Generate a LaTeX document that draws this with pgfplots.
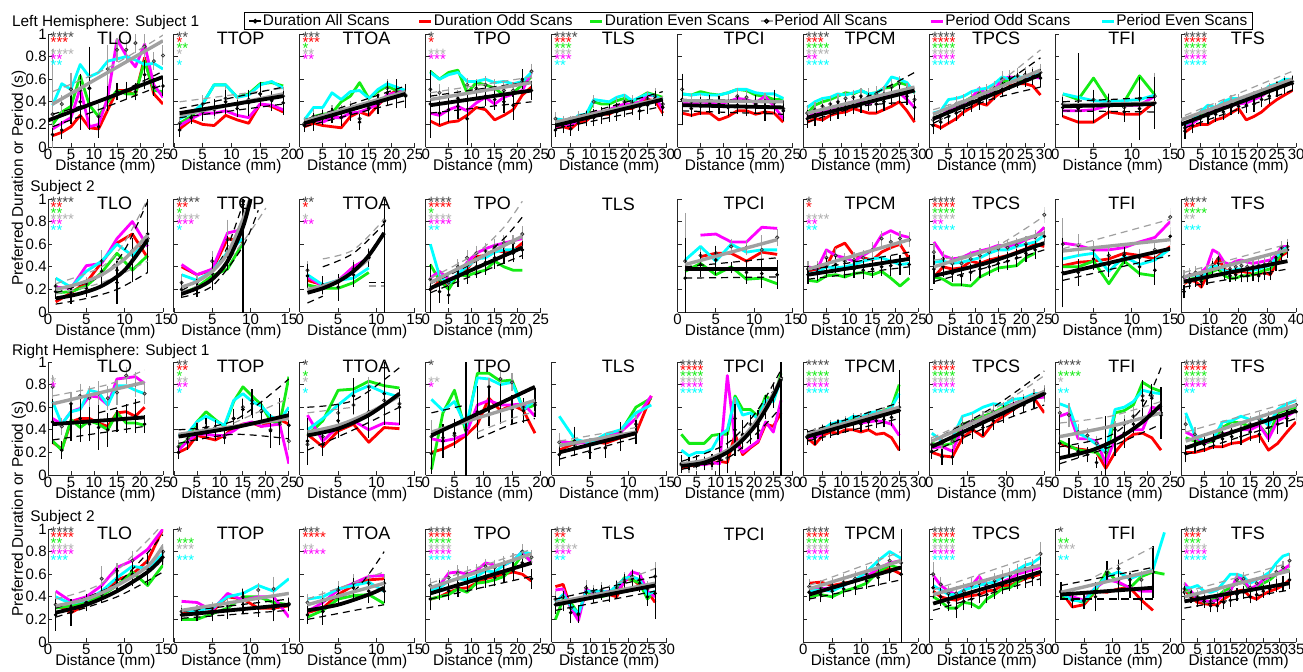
\documentclass[border=0pt]{standalone}
\usepackage{fontspec}
\setmainfont{Liberation Sans}
\usepackage{pgfplots}
\usepackage{pgfplotstable}
\pgfplotsset{compat=1.18}
\definecolor{cR}{RGB}{255,0,0}
\definecolor{cG}{RGB}{20,235,20}
\definecolor{cM}{RGB}{255,0,255}
\definecolor{cC}{RGB}{0,255,255}
\definecolor{cP}{RGB}{160,160,160}
\definecolor{sD}{RGB}{70,70,70}
\definecolor{sP}{RGB}{175,175,175}
\newcommand\fLab{\fontsize{7.7pt}{9pt}\selectfont}
\newcommand\fTick{\fontsize{7.5pt}{9pt}\selectfont}
\newcommand\fTtl{\fontsize{9pt}{10pt}\selectfont}
\newcommand\nstar[1]{\ifcase#1\or*\or**\or***\or****\fi}
\newcommand\sline[2]{\hbox{\vrule height 2.85pt depth 0pt width 0pt\smash{\textcolor{#1}{\nstar{#2}}}}}
\newcommand\stars[6]{\vbox{\offinterlineskip\sline{sD}{#1}\sline{cR}{#2}\sline{cG}{#3}\sline{sP}{#4}\sline{cM}{#5}\sline{cC}{#6}}}

% ---------------- Row A: Left hemisphere, subject 1
\pgfplotstableread{
x D Do De P Po Pe eD eP
1 0.11 0.10 0.20 0.29 0.16 0.37 0.03 0.55
3 0.15 0.13 0.31 0.38 0.21 0.56 0.05 0.05
5 0.33 0.18 0.36 0.51 0.26 0.51 0.10 0.12
7 0.40 0.28 0.63 0.50 0.52 0.73 0.22 0.10
9 0.52 0.17 0.37 0.52 0.18 0.62 0.34 0.10
11 0.18 0.16 0.27 0.27 0.20 0.66 0.07 0.08
13 0.43 0.33 0.40 0.69 0.44 0.76 0.08 0.18
15 0.49 0.50 0.50 0.86 0.95 0.78 0.05 0.08
17 0.50 0.50 0.47 0.86 0.81 0.80 0.05 0.06
19 0.49 0.46 0.47 0.92 0.71 0.77 0.05 0.06
21 0.64 0.79 0.76 0.89 0.91 0.73 0.10 0.10
23 0.53 0.47 0.50 0.76 0.55 0.74 0.05 0.05
25 0.54 0.38 0.49 0.81 0.44 0.69 0.06 0.06
}\tAa
\pgfplotstableread{
x D Do De P Po Pe eD eP
1 0.15 0.16 0.21 0.21 0.19 0.25 0.03 0.03
3 0.26 0.24 0.27 0.26 0.25 0.30 0.03 0.03
5 0.31 0.20 0.38 0.38 0.30 0.38 0.05 0.05
7 0.35 0.19 0.55 0.33 0.30 0.55 0.05 0.05
9 0.40 0.28 0.55 0.43 0.32 0.55 0.08 0.08
11 0.34 0.24 0.44 0.37 0.28 0.44 0.05 0.05
13 0.39 0.21 0.47 0.42 0.26 0.46 0.09 0.05
15 0.47 0.38 0.56 0.47 0.38 0.55 0.08 0.05
17 0.41 0.36 0.57 0.42 0.37 0.58 0.06 0.05
19 0.39 0.31 0.54 0.45 0.33 0.52 0.08 0.05
}\tAb
\pgfplotstableread{
x D Do De P Po Pe eD eP
1 0.19 0.18 0.20 0.21 0.20 0.24 0.03 0.03
3 0.22 0.21 0.27 0.27 0.24 0.35 0.05 0.04
5 0.26 0.19 0.29 0.27 0.22 0.35 0.04 0.04
7 0.28 0.18 0.30 0.30 0.26 0.48 0.04 0.04
9 0.26 0.17 0.40 0.30 0.26 0.42 0.05 0.04
11 0.30 0.27 0.45 0.34 0.30 0.49 0.04 0.04
13 0.22 0.31 0.57 0.25 0.31 0.50 0.04 0.04
15 0.34 0.28 0.43 0.35 0.34 0.43 0.04 0.04
17 0.38 0.37 0.49 0.40 0.38 0.51 0.06 0.05
19 0.48 0.45 0.54 0.52 0.46 0.56 0.08 0.05
21 0.47 0.50 0.50 0.49 0.48 0.53 0.10 0.05
23 0.45 0.49 0.50 0.46 0.50 0.50 0.08 0.05
}\tAc
\pgfplotstableread{
x D Do De P Po Pe eD eP
1 0.38 0.23 0.67 0.51 0.30 0.66 0.27 0.05
3 0.30 0.19 0.60 0.48 0.28 0.60 0.08 0.05
5 0.33 0.22 0.66 0.45 0.33 0.64 0.08 0.05
7 0.36 0.23 0.68 0.43 0.36 0.66 0.08 0.05
9 0.25 0.28 0.48 0.55 0.32 0.58 0.20 0.03
11 0.50 0.35 0.57 0.52 0.39 0.58 0.06 0.05
13 0.45 0.33 0.55 0.55 0.44 0.60 0.06 0.05
15 0.42 0.24 0.52 0.52 0.38 0.57 0.06 0.05
17 0.40 0.28 0.46 0.50 0.44 0.58 0.07 0.05
19 0.37 0.33 0.48 0.50 0.47 0.56 0.10 0.05
21 0.60 0.46 0.55 0.58 0.50 0.58 0.06 0.05
23 0.50 0.53 0.62 0.67 0.66 0.66 0.06 0.04
}\tAd
\pgfplotstableread{
x D Do De P Po Pe eD eP
1 0.15 0.17 0.20 0.25 0.18 0.25 0.03 0.03
3 0.18 0.18 0.21 0.22 0.20 0.24 0.03 0.03
5 0.16 0.16 0.19 0.22 0.19 0.22 0.03 0.03
7 0.21 0.22 0.25 0.26 0.24 0.28 0.04 0.03
9 0.25 0.23 0.27 0.27 0.25 0.29 0.04 0.03
11 0.26 0.29 0.40 0.40 0.31 0.42 0.05 0.03
13 0.28 0.29 0.38 0.30 0.31 0.41 0.05 0.03
15 0.30 0.29 0.38 0.32 0.33 0.40 0.05 0.03
17 0.31 0.33 0.41 0.37 0.36 0.44 0.05 0.04
19 0.34 0.34 0.43 0.40 0.38 0.46 0.05 0.04
21 0.35 0.34 0.40 0.39 0.38 0.41 0.04 0.04
23 0.32 0.39 0.44 0.36 0.40 0.44 0.05 0.04
25 0.37 0.42 0.48 0.43 0.46 0.47 0.05 0.04
27 0.43 0.41 0.46 0.45 0.45 0.45 0.04 0.04
29 0.35 0.30 0.44 0.38 0.33 0.42 0.05 0.04
}\tAe
\pgfplotstableread{
x D Do De P Po Pe eD eP
1 0.42 0.30 0.47 0.51 0.39 0.47 0.20 0.10
3 0.34 0.28 0.46 0.40 0.38 0.46 0.05 0.04
5 0.36 0.30 0.49 0.40 0.40 0.47 0.05 0.04
7 0.38 0.30 0.47 0.40 0.39 0.46 0.05 0.04
9 0.37 0.24 0.46 0.39 0.38 0.46 0.05 0.04
11 0.35 0.27 0.48 0.40 0.40 0.48 0.05 0.04
13 0.37 0.32 0.51 0.45 0.43 0.51 0.05 0.04
15 0.35 0.32 0.50 0.44 0.42 0.51 0.05 0.04
17 0.38 0.29 0.46 0.38 0.39 0.48 0.05 0.04
19 0.31 0.31 0.45 0.41 0.45 0.47 0.05 0.04
21 0.40 0.30 0.42 0.39 0.36 0.47 0.08 0.05
23 0.32 0.22 0.42 0.34 0.25 0.43 0.06 0.05
}\tAf
\pgfplotstableread{
x D Do De P Po Pe eD eP
1 0.25 0.22 0.30 0.30 0.26 0.35 0.05 0.04
3 0.26 0.25 0.37 0.33 0.30 0.40 0.05 0.04
5 0.30 0.24 0.40 0.36 0.32 0.43 0.05 0.04
7 0.31 0.28 0.42 0.38 0.34 0.44 0.05 0.04
9 0.33 0.30 0.45 0.40 0.36 0.47 0.05 0.04
11 0.35 0.31 0.48 0.43 0.38 0.46 0.05 0.04
13 0.37 0.34 0.47 0.44 0.40 0.48 0.05 0.04
15 0.38 0.32 0.50 0.45 0.40 0.50 0.05 0.04
17 0.40 0.30 0.47 0.45 0.38 0.47 0.05 0.04
19 0.38 0.30 0.48 0.47 0.42 0.48 0.05 0.04
21 0.40 0.33 0.52 0.47 0.44 0.52 0.05 0.04
23 0.45 0.36 0.53 0.53 0.46 0.62 0.05 0.04
25 0.47 0.40 0.57 0.56 0.48 0.60 0.05 0.04
27 0.45 0.32 0.55 0.50 0.42 0.57 0.05 0.04
29 0.35 0.22 0.48 0.42 0.35 0.48 0.08 0.06
}\tAg
\pgfplotstableread{
x D Do De P Po Pe eD eP
1 0.19 0.20 0.26 0.24 0.25 0.30 0.05 0.04
3 0.22 0.17 0.27 0.25 0.27 0.32 0.04 0.04
5 0.27 0.21 0.32 0.31 0.33 0.42 0.04 0.04
7 0.30 0.25 0.36 0.38 0.36 0.43 0.04 0.04
9 0.34 0.31 0.40 0.40 0.39 0.45 0.04 0.04
11 0.38 0.35 0.44 0.43 0.43 0.49 0.04 0.04
13 0.40 0.39 0.49 0.47 0.52 0.51 0.04 0.04
15 0.44 0.37 0.45 0.49 0.47 0.52 0.04 0.04
17 0.48 0.44 0.50 0.52 0.51 0.56 0.04 0.04
19 0.51 0.49 0.57 0.60 0.60 0.62 0.04 0.04
21 0.57 0.54 0.60 0.61 0.62 0.60 0.04 0.04
23 0.59 0.56 0.60 0.63 0.61 0.62 0.04 0.04
25 0.60 0.56 0.58 0.64 0.61 0.62 0.04 0.04
27 0.62 0.54 0.62 0.64 0.62 0.64 0.04 0.04
29 0.61 0.46 0.63 0.66 0.61 0.64 0.05 0.05
}\tAh
\pgfplotstableread{
x D Do De P Po Pe eD eP
1 0.35 0.27 0.47 0.38 0.32 0.47 0.06 0.05
3 0.34 0.22 0.42 0.38 0.32 0.44 0.46 0.05
5 0.36 0.22 0.61 0.42 0.33 0.41 0.12 0.05
7 0.36 0.31 0.40 0.40 0.37 0.40 0.08 0.05
9 0.31 0.29 0.40 0.35 0.37 0.41 0.06 0.05
11 0.34 0.29 0.63 0.43 0.37 0.42 0.25 0.05
13 0.39 0.40 0.46 0.45 0.45 0.46 0.20 0.18
}\tAi
\pgfplotstableread{
x D Do De P Po Pe eD eP
1 0.14 0.13 0.18 0.17 0.17 0.20 0.04 0.03
3 0.19 0.18 0.23 0.23 0.21 0.24 0.04 0.03
5 0.25 0.20 0.28 0.27 0.26 0.31 0.04 0.03
7 0.27 0.20 0.31 0.30 0.30 0.37 0.04 0.03
9 0.29 0.24 0.33 0.33 0.32 0.35 0.04 0.03
11 0.31 0.26 0.38 0.36 0.35 0.40 0.04 0.03
13 0.35 0.30 0.42 0.40 0.37 0.43 0.04 0.03
15 0.36 0.34 0.40 0.41 0.38 0.43 0.04 0.03
17 0.37 0.24 0.40 0.41 0.39 0.41 0.04 0.03
19 0.38 0.27 0.43 0.44 0.42 0.45 0.04 0.03
21 0.42 0.31 0.46 0.47 0.45 0.48 0.04 0.03
23 0.45 0.37 0.52 0.51 0.50 0.54 0.04 0.03
25 0.51 0.42 0.56 0.53 0.55 0.56 0.04 0.03
27 0.54 0.46 0.58 0.57 0.57 0.60 0.04 0.03
29 0.56 0.50 0.56 0.58 0.56 0.60 0.04 0.03
}\tAj
% ---------------- Row B: Left hemisphere, subject 2
\pgfplotstableread{
x D Do De P Po Pe eD eP
1 0.18 0.09 0.17 0.23 0.22 0.30 0.04 0.04
3 0.14 0.17 0.18 0.17 0.21 0.22 0.04 0.03
5 0.21 0.26 0.23 0.25 0.41 0.36 0.05 0.03
7 0.36 0.44 0.35 0.45 0.43 0.45 0.08 0.07
9 0.26 0.61 0.52 0.37 0.65 0.60 0.16 0.08
11 0.46 0.69 0.37 0.54 0.80 0.50 0.17 0.09
13 0.69 0.48 0.50 0.65 0.58 0.62 0.32 0.15
}\tBa
\pgfplotstableread{
x D Do De P Po Pe eD eP
1 0.20 0.40 0.16 0.26 0.42 0.33 0.05 0.05
3 0.21 0.33 0.22 0.26 0.33 0.28 0.05 0.04
5 0.34 0.37 0.32 0.45 0.38 0.36 0.12 0.06
7 0.52 0.65 0.38 0.64 0.70 0.53 0.12 0.15
9 0.95 0.62 0.61 0.98 0.73 0.65 0.95 0.05
}\tBb
\pgfplotstableread{
x D Do De P Po Pe eD eP
1 0.32 0.28 0.24 0.37 0.31 0.33 0.08 0.05
3 0.24 0.24 0.21 0.22 0.23 0.24 0.05 0.04
5 0.22 0.26 0.21 0.27 0.28 0.28 0.09 0.04
7 0.33 0.40 0.26 0.38 0.40 0.30 0.08 0.05
9 0.48 0.47 0.35 0.50 0.48 0.39 0.05 0.04
11 0.80 nan nan 0.81 nan nan 0.80 0.05
}\tBc
\pgfplotstableread{
x D Do De P Po Pe eD eP
1 0.20 0.20 0.42 0.29 0.30 0.60 0.20 0.05
3 0.18 0.27 0.28 0.30 0.36 0.32 0.07 0.04
5 0.15 0.24 0.20 0.26 0.29 0.25 0.05 0.04
7 0.31 0.33 0.33 0.40 0.32 0.34 0.06 0.04
9 0.34 0.38 0.32 0.48 0.44 0.40 0.06 0.04
11 0.40 0.49 0.35 0.52 0.52 0.47 0.07 0.04
13 0.44 0.50 0.37 0.54 0.56 0.48 0.08 0.04
15 0.48 0.55 0.45 0.58 0.59 0.53 0.07 0.04
17 0.50 0.53 0.40 0.61 0.61 0.55 0.05 0.04
19 0.52 0.54 0.37 0.61 0.63 0.55 0.05 0.04
21 0.55 0.61 0.37 0.69 0.65 0.56 0.05 0.04
}\tBd
\pgfplotstableread{
x D Do De P Po Pe eD eP
1 0.30 nan 0.36 0.45 nan 0.46 0.33 0.40
3 0.42 0.49 0.43 0.50 0.68 0.58 0.08 0.04
5 0.46 0.52 0.33 0.52 0.69 0.45 0.10 0.04
7 0.39 0.52 0.40 0.58 0.62 0.60 0.02 0.04
9 0.35 0.45 0.29 0.57 0.62 0.53 0.07 0.04
11 0.34 0.53 0.30 0.55 0.75 0.55 0.10 0.10
13 0.33 0.51 0.25 0.66 0.74 0.55 0.10 0.05
}\tBf
\pgfplotstableread{
x D Do De P Po Pe eD eP
1 0.33 0.36 0.28 0.38 0.40 0.34 0.05 0.04
3 0.35 0.38 0.27 0.38 0.38 0.35 0.05 0.04
5 0.40 0.40 0.32 0.48 0.55 0.40 0.05 0.04
7 0.42 0.57 0.33 0.50 0.50 0.39 0.05 0.04
9 0.38 0.61 0.31 0.45 0.48 0.40 0.05 0.04
11 0.38 0.50 0.34 0.46 0.45 0.42 0.05 0.04
13 0.37 0.48 0.35 0.48 0.50 0.45 0.05 0.04
15 0.38 0.46 0.33 0.55 0.55 0.47 0.05 0.04
17 0.40 0.53 0.36 0.65 0.68 0.48 0.05 0.04
19 0.41 0.57 0.30 0.62 0.72 0.45 0.06 0.04
21 0.42 0.60 0.23 0.65 0.68 0.42 0.06 0.04
23 0.42 0.47 0.30 0.64 0.66 0.43 0.06 0.04
}\tBg
\pgfplotstableread{
x D Do De P Po Pe eD eP
1 0.38 0.31 0.31 0.53 0.62 0.44 0.10 0.05
3 0.40 0.40 0.29 0.47 0.50 0.45 0.06 0.04
5 0.34 0.38 0.24 0.43 0.47 0.43 0.05 0.04
7 0.32 0.39 0.24 0.43 0.48 0.44 0.06 0.04
9 0.35 0.45 0.23 0.47 0.52 0.46 0.05 0.04
11 0.38 0.43 0.31 0.50 0.54 0.48 0.05 0.04
13 0.40 0.46 0.35 0.53 0.56 0.52 0.05 0.04
15 0.43 0.48 0.39 0.56 0.59 0.55 0.05 0.04
17 0.45 0.50 0.40 0.57 0.58 0.55 0.05 0.04
19 0.48 0.53 0.41 0.59 0.60 0.58 0.05 0.04
21 0.52 0.56 0.48 0.60 0.64 0.60 0.05 0.04
23 0.55 0.60 0.52 0.66 0.67 0.62 0.05 0.04
25 0.67 0.58 nan 0.86 0.75 0.68 0.05 0.04
}\tBh
\pgfplotstableread{
x D Do De P Po Pe eD eP
1 0.35 0.41 0.40 0.60 0.61 0.47 0.28 0.20
3 0.35 0.44 0.40 0.59 0.59 0.50 0.09 0.07
5 0.47 0.45 0.45 0.55 0.55 0.52 0.07 0.05
7 0.42 0.47 0.25 0.50 0.55 0.36 0.08 0.05
9 0.50 0.52 0.45 0.52 0.57 0.49 0.05 0.05
11 0.40 0.50 0.34 0.48 0.62 0.42 0.06 0.05
13 0.37 0.47 0.32 0.55 0.66 0.46 0.10 0.05
15 0.67 0.58 nan 0.84 0.80 0.56 0.05 0.05
}\tBi
\pgfplotstableread{
x D Do De P Po Pe eD eP
1 0.18 0.25 0.26 0.31 0.30 0.31 0.03 0.03
3 0.26 0.28 0.29 0.33 0.33 0.32 0.03 0.03
5 0.28 0.27 0.30 0.35 0.33 0.33 0.03 0.03
7 0.27 0.22 0.28 0.33 0.35 0.30 0.03 0.03
9 0.30 0.32 0.33 0.36 0.40 0.36 0.03 0.03
11 0.38 0.40 0.36 0.42 0.55 0.41 0.04 0.03
13 0.43 0.48 0.38 0.47 0.52 0.40 0.04 0.03
15 0.34 0.38 0.32 0.40 0.44 0.37 0.03 0.03
17 0.32 0.35 0.30 0.38 0.42 0.35 0.03 0.03
19 0.33 0.35 0.30 0.40 0.45 0.38 0.03 0.03
21 0.32 0.36 0.32 0.41 0.46 0.38 0.03 0.03
23 0.32 0.35 0.32 0.40 0.44 0.37 0.03 0.03
25 0.33 0.33 0.33 0.40 0.43 0.37 0.03 0.03
27 0.32 0.34 0.35 0.41 0.44 0.38 0.03 0.03
29 0.34 0.35 0.37 0.42 0.45 0.40 0.03 0.03
31 0.34 0.33 0.38 0.44 0.46 0.41 0.03 0.03
33 0.43 0.42 0.45 0.48 0.50 0.48 0.04 0.03
35 0.51 0.50 0.52 0.57 0.58 0.55 0.04 0.03
37 0.55 0.53 0.55 0.58 0.58 0.57 0.04 0.04
}\tBj
% ---------------- Row C: Right hemisphere, subject 1
\pgfplotstableread{
x D Do De P Po Pe eD eP
1 0.47 0.29 0.30 0.78 0.50 0.65 0.17 0.08
3 0.22 0.23 0.22 0.43 0.45 0.45 0.05 0.05
5 0.47 0.47 0.49 0.63 0.56 0.56 0.14 0.08
7 0.50 0.50 0.42 0.70 0.59 0.58 0.18 0.08
9 0.45 0.50 0.48 0.68 0.70 0.75 0.12 0.08
11 0.42 0.46 0.45 0.72 0.69 0.73 0.17 0.08
13 0.40 0.43 0.40 0.68 0.62 0.62 0.12 0.08
15 0.48 0.55 0.55 0.73 0.85 0.79 0.07 0.08
17 0.50 0.56 0.46 0.88 0.86 0.79 0.10 0.05
19 0.52 0.52 0.46 0.80 0.87 0.75 0.12 0.08
21 0.45 0.60 0.44 0.72 0.81 0.72 0.05 0.06
}\tCa
\pgfplotstableread{
x D Do De P Po Pe eD eP
1 0.20 0.20 0.25 0.25 0.22 0.35 0.03 0.03
3 0.29 0.24 0.31 0.32 0.30 0.37 0.04 0.03
5 0.38 0.35 0.47 0.40 0.36 0.47 0.05 0.04
7 0.42 0.33 0.56 0.41 0.36 0.52 0.06 0.04
9 0.40 0.31 0.49 0.42 0.35 0.48 0.06 0.04
11 0.33 0.35 0.43 0.35 0.35 0.44 0.03 0.03
13 0.50 0.42 0.65 0.50 0.39 0.66 0.06 0.04
15 0.58 0.45 0.78 0.60 0.45 0.72 0.06 0.05
17 0.63 0.46 0.70 0.66 0.47 0.65 0.10 0.05
19 0.56 0.43 0.62 0.57 0.43 0.61 0.06 0.05
21 0.39 0.47 0.48 0.40 0.44 0.52 0.12 0.05
23 0.47 0.49 0.45 0.45 0.45 0.48 0.18 0.05
25 0.44 0.45 0.87 0.30 0.10 0.60 0.10 0.05
}\tCb
\pgfplotstableread{
x D Do De P Po Pe eD eP
1 0.30 0.36 0.35 0.27 0.53 0.40 0.18 0.05
3 0.27 0.25 0.48 0.34 0.30 0.50 0.07 0.04
5 0.48 0.39 0.75 0.55 0.43 0.62 0.12 0.06
7 0.70 0.45 0.76 0.62 0.48 0.73 0.13 0.06
9 0.56 0.29 0.83 0.78 0.40 0.79 0.20 0.06
11 0.72 0.42 0.79 0.66 0.46 0.73 0.25 0.06
13 0.60 0.41 0.77 0.63 0.45 0.69 0.13 0.06
}\tCc
\pgfplotstableread{
x D Do De P Po Pe eD eP
1 0.19 0.20 0.05 0.34 0.32 0.67 0.15 0.12
3 0.30 0.23 0.55 0.33 0.30 0.57 0.12 0.05
5 0.37 0.28 0.75 0.35 0.32 0.65 0.10 0.05
7 0.50 0.35 0.38 0.40 0.36 0.43 0.50 0.05
9 0.56 0.45 0.90 0.55 0.62 0.86 0.20 0.05
11 0.61 0.68 0.90 0.78 0.66 0.85 0.15 0.05
13 0.63 0.57 0.83 0.85 0.62 0.80 0.15 0.05
15 0.58 0.62 0.84 0.82 0.62 0.82 0.10 0.05
17 0.57 0.57 0.58 0.60 0.63 0.58 0.08 0.05
19 0.64 0.37 0.62 0.62 0.52 0.66 0.10 0.05
}\tCd
\pgfplotstableread{
x D Do De P Po Pe eD eP
1 0.18 0.22 0.26 0.29 0.30 0.52 0.07 0.05
3 0.30 0.28 0.30 0.26 0.28 0.32 0.10 0.04
5 0.20 0.30 0.28 0.27 0.29 0.28 0.03 0.03
7 0.24 0.28 0.35 0.30 0.33 0.36 0.06 0.04
9 0.34 0.33 0.38 0.38 0.38 0.40 0.10 0.05
11 0.38 0.37 0.60 0.45 0.50 0.55 0.08 0.05
13 nan 0.70 0.68 nan 0.70 0.62 0.05 0.05
}\tCe
\pgfplotstableread{
x D Do De P Po Pe eD eP
1 0.10 0.06 0.36 0.09 0.10 0.22 0.05 0.04
3 0.10 0.08 0.28 0.08 0.09 0.17 0.03 0.03
5 0.12 0.09 0.28 0.10 0.10 0.20 0.03 0.03
7 0.10 0.10 0.28 0.11 0.09 0.20 0.03 0.03
9 0.13 0.10 0.35 0.10 0.11 0.23 0.03 0.03
11 0.14 0.12 0.36 0.15 0.10 0.35 0.20 0.05
13 0.20 0.11 0.36 0.15 0.88 0.40 0.15 0.05
15 0.40 0.36 0.70 0.50 0.30 0.68 0.20 0.15
17 0.36 0.18 0.58 0.35 0.20 0.53 0.10 0.05
19 0.40 0.24 0.58 0.45 0.25 0.55 0.10 0.05
21 0.45 0.29 0.52 0.50 0.30 0.50 0.10 0.05
23 0.60 0.45 0.70 0.62 0.47 0.66 0.08 0.05
25 0.70 0.43 0.65 0.73 0.38 0.65 0.08 0.05
27 0.85 0.55 0.90 0.86 0.66 0.85 0.85 0.05
}\tCf
\pgfplotstableread{
x D Do De P Po Pe eD eP
1 0.33 0.33 0.37 0.34 0.33 0.35 0.04 0.04
3 0.33 0.27 0.35 0.35 0.33 0.36 0.04 0.04
5 0.37 0.35 0.40 0.38 0.37 0.40 0.04 0.04
7 0.40 0.38 0.44 0.42 0.42 0.45 0.04 0.04
9 0.42 0.37 0.45 0.43 0.43 0.47 0.04 0.04
11 0.44 0.40 0.47 0.45 0.45 0.48 0.04 0.04
13 0.46 0.40 0.50 0.48 0.47 0.52 0.04 0.04
15 0.45 0.38 0.51 0.48 0.46 0.51 0.04 0.04
17 0.47 0.40 0.53 0.50 0.47 0.55 0.04 0.04
19 0.48 0.36 0.55 0.52 0.48 0.56 0.04 0.04
21 0.49 0.37 0.57 0.53 0.47 0.56 0.04 0.04
23 0.51 0.33 0.60 0.55 0.45 0.60 0.05 0.04
25 0.57 0.22 0.80 0.60 0.35 0.72 0.33 0.05
}\tCg
\pgfplotstableread{
x D Do De P Po Pe eD eP
1 0.21 0.20 0.28 0.27 0.24 0.37 0.04 0.04
5 0.16 0.17 0.26 0.28 0.25 0.30 0.04 0.04
9 0.16 0.16 0.28 0.30 0.21 0.33 0.04 0.04
13 0.35 0.33 0.45 0.45 0.42 0.52 0.05 0.04
17 0.40 0.40 0.48 0.48 0.47 0.55 0.05 0.04
21 0.42 0.34 0.52 0.50 0.48 0.60 0.05 0.04
25 0.48 0.46 0.55 0.56 0.52 0.63 0.05 0.04
29 0.54 0.52 0.60 0.58 0.58 0.62 0.05 0.04
33 0.58 0.58 0.63 0.62 0.63 0.67 0.04 0.04
37 0.62 0.64 0.67 0.65 0.66 0.68 0.04 0.04
41 0.66 0.68 0.70 0.69 0.68 0.72 0.04 0.04
45 0.72 0.55 0.70 0.72 0.69 0.72 0.05 0.04
}\tCh
\pgfplotstableread{
x D Do De P Po Pe eD eP
1 0.28 0.28 0.30 0.55 0.52 0.63 0.22 0.10
3 0.25 0.25 0.26 0.53 0.55 0.60 0.05 0.08
5 0.21 0.23 0.22 0.38 0.32 0.37 0.03 0.04
7 0.18 0.22 0.21 0.35 0.32 0.33 0.04 0.04
9 0.11 0.20 0.20 0.28 0.30 0.27 0.02 0.04
11 0.24 0.06 0.12 0.20 0.10 0.20 0.25 0.04
13 0.30 0.20 0.55 0.40 0.32 0.58 0.10 0.05
15 0.37 0.30 0.57 0.45 0.36 0.60 0.10 0.05
17 0.45 0.36 0.62 0.52 0.40 0.65 0.05 0.05
19 0.66 0.37 0.82 0.70 0.40 0.75 0.15 0.05
21 0.68 0.33 0.77 0.70 0.60 0.73 0.10 0.05
23 0.55 0.22 0.74 0.53 0.58 0.72 0.20 0.10
}\tCi
\pgfplotstableread{
x D Do De P Po Pe eD eP
1 0.19 0.20 0.33 0.45 0.38 0.55 0.05 0.04
3 0.26 0.20 0.30 0.36 0.34 0.35 0.04 0.04
5 0.27 0.22 0.28 0.30 0.28 0.30 0.04 0.04
7 0.30 0.25 0.30 0.32 0.32 0.32 0.04 0.04
9 0.32 0.25 0.42 0.37 0.36 0.47 0.05 0.04
11 0.34 0.28 0.47 0.39 0.38 0.48 0.05 0.04
13 0.34 0.29 0.46 0.41 0.40 0.52 0.05 0.04
15 0.38 0.33 0.43 0.45 0.40 0.49 0.05 0.04
17 0.36 0.35 0.44 0.49 0.44 0.51 0.05 0.04
19 0.42 0.22 0.34 0.50 0.32 0.44 0.10 0.04
21 0.45 0.28 0.55 0.52 0.48 0.58 0.06 0.04
23 0.50 0.38 0.58 0.58 0.52 0.63 0.05 0.04
25 0.56 0.47 0.60 0.62 0.57 0.66 0.05 0.04
}\tCj
% ---------------- Row D: Right hemisphere, subject 2
\pgfplotstableread{
x D Do De P Po Pe eD eP
1 0.24 0.33 0.30 0.33 0.45 0.40 0.11 0.08
3 0.26 0.26 0.32 0.31 0.36 0.34 0.09 0.04
5 0.35 0.33 0.35 0.35 0.40 0.37 0.05 0.04
7 0.42 0.43 0.41 0.56 0.50 0.45 0.05 0.08
9 0.55 0.55 0.50 0.63 0.66 0.57 0.08 0.04
11 0.60 0.60 0.62 0.72 0.72 0.67 0.08 0.06
13 0.65 0.72 0.50 0.70 0.82 0.65 0.12 0.06
15 0.75 1.00 0.68 0.80 1.00 0.78 0.04 0.04
}\tDa
\pgfplotstableread{
x D Do De P Po Pe eD eP
1 0.24 0.27 0.20 0.27 0.36 0.28 0.03 0.03
3 0.24 0.25 0.20 0.27 0.35 0.28 0.03 0.03
5 0.25 0.27 0.25 0.30 0.28 0.30 0.04 0.03
7 0.28 0.40 0.30 0.32 0.43 0.40 0.05 0.04
9 0.36 0.38 0.40 0.40 0.37 0.43 0.08 0.05
11 0.30 0.30 0.40 0.46 0.40 0.50 0.05 0.03
13 0.29 0.30 0.35 0.47 0.40 0.45 0.08 0.08
15 0.33 0.32 0.33 0.34 0.22 0.56 0.03 0.03
}\tDb
\pgfplotstableread{
x D Do De P Po Pe eD eP
1 0.24 0.26 0.22 0.35 0.27 0.38 0.05 0.05
3 0.27 0.30 0.28 0.37 0.35 0.40 0.09 0.05
5 0.42 0.42 0.38 0.46 0.46 0.47 0.05 0.05
7 0.48 0.50 0.41 0.52 0.52 0.50 0.06 0.05
9 0.45 0.55 0.42 0.52 0.58 0.53 0.08 0.05
11 0.45 0.56 0.34 0.52 0.59 0.45 0.08 0.05
}\tDc
\pgfplotstableread{
x D Do De P Po Pe eD eP
1 0.38 0.38 0.38 0.50 0.48 0.45 0.07 0.04
3 0.46 0.40 0.40 0.50 0.50 0.48 0.06 0.04
5 0.45 0.44 0.42 0.57 0.61 0.54 0.05 0.04
7 0.48 0.47 0.47 0.61 0.62 0.56 0.05 0.04
9 0.52 0.48 0.44 0.60 0.60 0.55 0.05 0.04
11 0.54 0.52 0.52 0.62 0.63 0.58 0.05 0.04
13 0.56 0.56 0.53 0.67 0.70 0.63 0.05 0.04
15 0.57 0.58 0.55 0.66 0.68 0.62 0.05 0.04
17 0.60 0.60 0.58 0.69 0.68 0.68 0.05 0.04
19 0.63 0.62 0.66 0.72 0.72 0.72 0.05 0.04
21 0.70 0.60 0.77 0.80 0.80 0.80 0.05 0.04
23 0.56 0.54 0.72 0.75 0.70 0.78 0.06 0.04
}\tDd
\pgfplotstableread{
x D Do De P Po Pe eD eP
1 0.33 0.49 0.20 0.38 0.46 0.35 0.05 0.04
3 0.36 0.51 0.38 0.40 0.47 0.42 0.06 0.04
5 0.26 0.30 0.35 0.30 0.30 0.32 0.06 0.04
7 0.25 0.23 0.25 0.24 0.19 0.25 0.05 0.04
9 0.44 0.45 0.45 0.48 0.47 0.45 0.04 0.04
11 0.41 0.42 0.40 0.44 0.43 0.45 0.04 0.04
13 0.44 0.45 0.40 0.46 0.44 0.45 0.04 0.04
15 0.42 0.42 0.42 0.44 0.45 0.44 0.04 0.04
17 0.46 0.40 0.48 0.48 0.45 0.50 0.05 0.04
19 0.53 0.55 0.57 0.55 0.53 0.56 0.04 0.04
21 0.56 0.56 0.55 0.58 0.62 0.58 0.05 0.04
23 0.52 0.50 0.52 0.55 0.60 0.55 0.05 0.04
25 0.40 0.45 0.38 0.47 0.45 0.42 0.05 0.04
27 0.43 0.35 0.45 0.58 0.40 0.45 0.20 0.10
}\tDe
\pgfplotstableread{
x D Do De P Po Pe eD eP
1 0.44 0.52 0.40 0.49 0.48 0.45 0.05 0.04
3 0.42 0.53 0.42 0.48 0.47 0.46 0.04 0.04
5 0.45 0.50 0.40 0.50 0.48 0.45 0.04 0.04
7 0.47 0.52 0.45 0.53 0.50 0.50 0.04 0.04
9 0.48 0.54 0.48 0.56 0.55 0.55 0.04 0.04
11 0.54 0.57 0.52 0.60 0.58 0.62 0.04 0.04
13 0.57 0.62 0.62 0.68 0.65 0.72 0.05 0.04
15 0.62 0.65 0.68 0.72 0.70 0.80 0.05 0.04
17 0.60 0.60 0.65 0.70 0.72 0.74 0.60 0.05
}\tDg
\pgfplotstableread{
x D Do De P Po Pe eD eP
1 0.48 0.45 0.40 0.60 0.59 0.50 0.06 0.08
3 0.40 0.40 0.36 0.51 0.50 0.46 0.05 0.04
5 0.35 0.38 0.30 0.43 0.45 0.42 0.05 0.04
7 0.30 0.37 0.30 0.43 0.42 0.42 0.06 0.04
9 0.36 0.40 0.35 0.45 0.46 0.46 0.05 0.04
11 0.38 0.41 0.34 0.50 0.50 0.48 0.05 0.04
13 0.42 0.42 0.30 0.52 0.58 0.50 0.05 0.04
15 0.42 0.45 0.38 0.50 0.48 0.52 0.05 0.04
17 0.46 0.46 0.42 0.54 0.50 0.53 0.05 0.04
19 0.50 0.50 0.47 0.57 0.53 0.57 0.05 0.04
21 0.53 0.50 0.48 0.59 0.56 0.60 0.05 0.04
23 0.55 0.53 0.53 0.62 0.60 0.64 0.05 0.04
25 0.56 0.56 0.58 0.65 0.62 0.68 0.05 0.04
27 0.57 0.58 0.60 0.67 0.64 0.70 0.05 0.04
29 0.62 0.60 0.62 0.78 0.66 0.75 0.10 0.08
}\tDh
\pgfplotstableread{
x D Do De P Po Pe eD eP
1 0.45 0.45 0.40 0.44 0.42 0.43 0.05 0.04
3 0.37 0.31 0.38 0.38 0.40 0.37 0.04 0.04
5 0.37 0.33 0.35 0.36 0.37 0.36 0.05 0.04
7 0.40 0.45 0.45 0.45 0.48 0.48 0.10 0.04
9 0.62 0.44 0.63 0.60 0.55 0.58 0.07 0.05
11 0.55 0.47 0.52 0.65 0.53 0.62 0.15 0.06
13 0.50 0.48 0.48 0.55 0.48 0.56 0.08 0.05
15 0.38 0.37 0.58 0.55 0.45 0.60 0.07 0.05
17 0.62 0.28 0.62 0.62 0.45 0.64 0.20 0.18
19 nan nan 0.60 nan nan 0.97 0.05 0.05
}\tDi
\pgfplotstableread{
x D Do De P Po Pe eD eP
1 0.44 0.46 0.48 0.47 0.52 0.48 0.03 0.03
3 0.40 0.40 0.42 0.42 0.45 0.48 0.03 0.03
5 0.37 0.35 0.40 0.40 0.38 0.50 0.03 0.03
7 0.36 0.34 0.35 0.38 0.36 0.45 0.03 0.03
9 0.32 0.33 0.36 0.36 0.36 0.44 0.03 0.03
11 0.32 0.33 0.40 0.38 0.37 0.46 0.03 0.03
13 0.35 0.38 0.45 0.42 0.42 0.53 0.03 0.03
15 0.37 0.42 0.48 0.45 0.45 0.60 0.03 0.03
17 0.42 0.45 0.52 0.55 0.58 0.60 0.03 0.03
19 0.44 0.46 0.54 0.56 0.55 0.58 0.03 0.03
21 0.40 0.40 0.45 0.48 0.47 0.52 0.03 0.03
23 0.42 0.38 0.48 0.52 0.50 0.55 0.03 0.03
25 0.45 0.42 0.52 0.56 0.55 0.58 0.03 0.03
27 0.47 0.45 0.55 0.58 0.58 0.62 0.03 0.03
29 0.50 0.47 0.60 0.62 0.60 0.70 0.03 0.03
31 0.52 0.50 0.62 0.66 0.64 0.76 0.04 0.03
33 0.55 0.55 0.64 0.72 0.68 0.78 0.05 0.04
}\tDj

\pgfplotsset{
  panel/.style={scale only axis, width=57.5pt, height=56.5pt, anchor=south west,
    xmin=0, ymin=0, ymax=1,
    axis lines*=left, axis line style={-, line width=0.5pt, black!85},
    tick align=inside, major tick length=2pt, tick style={line width=0.4pt, black!85},
    ytick={0,0.2,0.4,0.6,0.8,1}, yticklabels={},
    xlabel={Distance (mm)},
    xlabel style={font=\fLab, inner sep=0pt, yshift=1.5pt},
    ticklabel style={font=\fTick},
    xticklabel style={inner sep=1pt},
    yticklabel style={inner sep=0.5pt},
    clip mode=individual,
    /pgf/number format/assume math mode=true},
  ylab/.style={yticklabels={0,0.2,0.4,0.6,0.8,1}},
  panelat/.style 2 args={at={({(24+62.95*(#1-1))*1pt},{-#2*0.5pt})}},
  pR/.style={cR, line width=1.4pt, line join=round},
  pG/.style={cG, line width=1.4pt, line join=round},
  pM/.style={cM, line width=1.4pt, line join=round},
  pC/.style={cC, line width=1.4pt, line join=round},
  fB/.style={black, line width=1.9pt, smooth},
  fP/.style={cP, line width=1.7pt, smooth},
  ciB/.style={black, line width=0.6pt, dash pattern=on 3.5pt off 2.5pt, smooth},
  ciP/.style={cP, line width=0.6pt, dash pattern=on 3.5pt off 2.5pt, smooth},
  pP/.style={only marks, mark=o, mark size=0.8pt, mark options={solid, black!80, line width=0.4pt},
    error bars/.cd, y dir=both, y explicit,
    error bar style={line width=0.6pt, cP},
    error mark options={cP, line width=0.6pt, mark size=1.6pt}},
  pD/.style={only marks, mark=*, mark size=0.7pt, mark options={solid, black},
    error bars/.cd, y dir=both, y explicit,
    error bar style={line width=0.6pt, black},
    error mark options={black, line width=0.6pt, mark size=1.6pt}},
  limg/.style={legend image code/.code={\draw[mark repeat=2, mark phase=2, ##1] plot coordinates {(0pt,0pt) (3pt,0pt) (6pt,0pt)};}},
}
\newcommand\panel[5]{%
\begin{axis}[panel,#1]
\addplot[pR] table[x=x,y=Do]{#2};
\addplot[pG] table[x=x,y=De]{#2};
\addplot[pM] table[x=x,y=Po]{#2};
\addplot[pC] table[x=x,y=Pe]{#2};
\addplot[pP] table[x=x,y=P,y error=eP]{#2};
\addplot[pD] table[x=x,y=D,y error=eD]{#2};
#3
\node[anchor=north west, inner sep=0pt, yshift=-1pt, font=\fontsize{7.5pt}{3pt}\selectfont] at (rel axis cs:0.02,1) {#4};
\node[anchor=north, inner sep=0pt, yshift=1pt, font=\fTtl] at (rel axis cs:0.58,1) {#5};
\end{axis}}

\begin{document}
\begin{tikzpicture}
\path[use as bounding box] (0pt,0pt) rectangle (651.5pt,-335.5pt);

\node[anchor=base west, inner sep=0pt, font=\fLab] at (5.85pt,-13pt) {Left Hemisphere: Subject 1};
\node[anchor=base west, inner sep=0pt, font=\fLab] at (15pt,-95.8pt) {Subject 2};
\node[anchor=base west, inner sep=0pt, font=\fLab] at (5.85pt,-177.5pt) {Right Hemisphere: Subject 1};
\node[anchor=base west, inner sep=0pt, font=\fLab] at (15pt,-260.8pt) {Subject 2};
\node[rotate=90, inner sep=0pt, font=\fLab] at (9.5pt,-89pt) {Preferred Duration or Period (s)};
\node[rotate=90, inner sep=0pt, font=\fLab] at (9.5pt,-254.5pt) {Preferred Duration or Period (s)};

% legend
\begin{axis}[at={(122pt,-6pt)}, anchor=north west, scale only axis, width=1pt, height=1pt,
  hide axis, xmin=0, xmax=1, ymin=0, ymax=1, legend columns=6,
  legend style={at={(0,1)}, anchor=north west, draw=black, line width=0.5pt,
    inner xsep=2pt, inner ysep=0.3pt, font=\fLab,
    /tikz/every even column/.append style={column sep=1pt},
    nodes={inner sep=0.5pt}}]
\addlegendimage{limg, black, line width=0.7pt, mark=*, mark size=0.8pt}
\addlegendentry{\makebox[76pt][l]{Duration All Scans}}
\addlegendimage{limg, cR, line width=1.5pt}
\addlegendentry{\makebox[76pt][l]{Duration Odd Scans}}
\addlegendimage{limg, cG, line width=1.5pt}
\addlegendentry{\makebox[76pt][l]{Duration Even Scans}}
\addlegendimage{limg, cP, line width=0.7pt, mark=o, mark size=0.9pt, mark options={black}}
\addlegendentry{\makebox[76pt][l]{Period All Scans}}
\addlegendimage{limg, cM, line width=1.5pt}
\addlegendentry{\makebox[76pt][l]{Period Odd Scans}}
\addlegendimage{limg, cC, line width=1.5pt}
\addlegendentry{Period Even Scans}
\end{axis}

% ===== Row A (bottom at 147 px)
\panel{panelat={1}{147}, ylab, xmax=25, xtick={0,5,...,25}}{\tAa}
 {\addplot[ciP] coordinates {(1,0.49) (13,0.70) (25,0.99)};
  \addplot[ciB] coordinates {(1,0.29) (13,0.44) (25,0.67)}; \addplot[ciB] coordinates {(1,0.18) (13,0.36) (25,0.55)};
  \addplot[fP] coordinates {(1,0.38) (25,0.94)}; \addplot[fB] coordinates {(0,0.235) (25,0.62)};}
 {\stars{4}{3}{0}{4}{2}{2}}{TLO}
\panel{panelat={2}{147}, xmax=20, xtick={0,5,...,20}}{\tAb}
 {\addplot[ciP] coordinates {(1,0.40) (19,0.52)};
  \addplot[ciB] coordinates {(1,0.34) (19,0.53)}; \addplot[ciB] coordinates {(1,0.26) (19,0.38)};
  \addplot[fP] coordinates {(1,0.28) (19,0.47)}; \addplot[fB] coordinates {(1,0.30) (19,0.45)};}
 {\stars{2}{1}{2}{1}{0}{1}}{TTOP}
\panel{panelat={3}{147}, xmax=25, xtick={0,5,...,25}}{\tAc}
 {\addplot[ciB] coordinates {(1,0.24) (23,0.54)}; \addplot[ciB] coordinates {(1,0.18) (23,0.41)};
  \addplot[fP] coordinates {(1,0.23) (23,0.49)}; \addplot[fB] coordinates {(1,0.21) (23,0.47)};}
 {\stars{3}{3}{1}{2}{2}{0}}{TTOA}
\panel{panelat={4}{147}, xmax=25, xtick={0,5,...,25}}{\tAd}
 {\addplot[ciP] coordinates {(1,0.48) (23,0.62)};
  \addplot[ciB] coordinates {(1,0.45) (23,0.58)}; \addplot[ciB] coordinates {(1,0.30) (23,0.40)};
  \addplot[fP] coordinates {(1,0.42) (23,0.57)}; \addplot[fB] coordinates {(1,0.37) (23,0.50)};}
 {\stars{1}{1}{0}{3}{3}{0}}{TPO}
\panel{panelat={5}{147}, xmax=30, xtick={0,5,...,30}}{\tAe}
 {\addplot[ciB] coordinates {(1,0.22) (29,0.49)}; \addplot[ciB] coordinates {(1,0.16) (29,0.36)};
  \addplot[fP] coordinates {(1,0.22) (29,0.43)}; \addplot[fB] coordinates {(1,0.19) (29,0.42)};}
 {\stars{4}{3}{3}{3}{3}{2}}{TLS}
\panel{panelat={6}{147}, xmax=25, xtick={0,5,...,25}}{\tAf}
 {\addplot[ciB] coordinates {(1,0.42) (23,0.41)}; \addplot[ciB] coordinates {(1,0.32) (23,0.29)};
  \addplot[fP] coordinates {(1,0.41) (23,0.40)}; \addplot[fB] coordinates {(1,0.37) (23,0.35)};}
 {}{TPCI}
\panel{panelat={7}{147}, xmax=30, xtick={0,5,...,30}}{\tAg}
 {\addplot[ciB] coordinates {(1,0.30) (15,0.42) (29,0.66)}; \addplot[ciB] coordinates {(1,0.22) (15,0.36) (29,0.40)};
  \addplot[fP] coordinates {(1,0.30) (29,0.53)}; \addplot[fB] coordinates {(1,0.26) (29,0.50)};}
 {\stars{4}{3}{4}{4}{2}{4}}{TPCM}
\panel{panelat={8}{147}, xmax=30, xtick={0,5,...,30}}{\tAh}
 {\addplot[ciP] coordinates {(1,0.33) (15,0.50) (29,0.86)};
  \addplot[ciB] coordinates {(1,0.29) (15,0.47) (29,0.79)}; \addplot[ciB] coordinates {(1,0.21) (15,0.41) (29,0.53)};
  \addplot[fP] coordinates {(1,0.29) (29,0.68)}; \addplot[fB] coordinates {(1,0.25) (29,0.64)};}
 {\stars{4}{4}{4}{4}{4}{4}}{TPCS}
\panel{panelat={9}{147}, xmax=15, xtick={0,5,...,15}}{\tAi}
 {\addplot[ciB] coordinates {(1,0.40) (13,0.44)}; \addplot[ciB] coordinates {(1,0.32) (13,0.31)};
  \addplot[fP] coordinates {(1,0.37) (13,0.39)}; \addplot[fB] coordinates {(1,0.36) (13,0.38)};}
 {}{TFI}
\panel{panelat={10}{147}, xmax=30, xtick={0,5,...,30}}{\tAj}
 {\addplot[ciP] coordinates {(1,0.28) (29,0.67)}; \addplot[ciB] coordinates {(1,0.17) (29,0.50)};
  \addplot[fP] coordinates {(0,0.24) (29,0.60)}; \addplot[fB] coordinates {(0,0.20) (29,0.57)};}
 {\stars{4}{4}{4}{4}{4}{4}}{TFS}

% ===== Row B (bottom at 312 px)
\panel{panelat={1}{312}, ylab, xmax=15, xtick={0,5,...,15}}{\tBa}
 {\addplot[ciP] coordinates {(1,0.25) (7,0.40) (10,0.62) (13,1.0)}; \addplot[ciP] coordinates {(1,0.16) (7,0.26) (13,0.45)};
  \addplot[ciB] coordinates {(1,0.17) (7,0.32) (10,0.55) (13,0.98)}; \addplot[ciB] coordinates {(1,0.07) (5,0.12) (9,0.20) (13,0.35)};
  \addplot[fP] coordinates {(1,0.20) (4,0.25) (7,0.33) (10,0.47) (13,0.68)}; \addplot[fB] coordinates {(1,0.12) (4,0.16) (7,0.23) (10,0.37) (13,0.64)};}
 {\stars{4}{2}{2}{4}{2}{2}}{TLO}
\panel{panelat={2}{312}, xmax=15, xtick={0,5,...,15}}{\tBb}
 {\addplot[ciP] coordinates {(1,0.18) (5,0.30) (9,0.62) (12,0.92)};
  \addplot[ciB] coordinates {(1,0.19) (5,0.36) (7,0.58) (9,0.95) (10,1.1)}; \addplot[ciB] coordinates {(1,0.13) (5,0.23) (9,0.58) (11,0.90)};
  \addplot[fP] coordinates {(1,0.22) (3,0.27) (5,0.36) (7,0.52) (9,0.82) (10,1.02)}; \addplot[fB] coordinates {(1,0.16) (3,0.21) (5,0.29) (7,0.45) (9,0.75) (10,1.0)};}
 {\stars{4}{2}{1}{4}{3}{1}}{TTOP}
\panel{panelat={3}{312}, xmax=15, xtick={0,5,...,15}}{\tBc}
 {\addplot[ciP] coordinates {(3,0.47) (7,0.55) (11,0.82)}; \addplot[ciP] coordinates {(9,0.23) (11,0.23)};
  \addplot[ciB] coordinates {(3,0.40) (7,0.52) (11,0.78)}; \addplot[ciB] coordinates {(1,0.08) (3,0.14)}; \addplot[ciB] coordinates {(9,0.26) (11,0.26)};
  \addplot[fP] coordinates {(1,0.20) (3,0.23) (5,0.28) (7,0.36) (9,0.47)}; \addplot[fB] coordinates {(1,0.17) (3,0.21) (5,0.27) (7,0.36) (9,0.50) (11,0.70)};}
 {\stars{2}{1}{0}{1}{2}{0}}{TTOA}
\panel{panelat={4}{312}, xmax=25, xtick={0,5,...,25}}{\tBd}
 {\addplot[ciP] coordinates {(1,0.30) (11,0.52) (17,0.75) (21,0.98)}; \addplot[ciP] coordinates {(1,0.22) (21,0.58)};
  \addplot[ciB] coordinates {(1,0.25) (11,0.45) (17,0.65) (21,0.84)}; \addplot[ciB] coordinates {(1,0.17) (21,0.50)};
  \addplot[fP] coordinates {(1,0.26) (21,0.67)}; \addplot[fB] coordinates {(1,0.21) (21,0.57)};}
 {\stars{4}{4}{1}{4}{4}{2}}{TPO}
\node[anchor=north, inner sep=0pt, font=\fTtl] at (309.2pt,-99pt) {TLS};
\panel{panelat={6}{312}, xmax=15, xtick={0,5,...,15}}{\tBf}
 {\addplot[ciB] coordinates {(1,0.40) (13,0.48)}; \addplot[ciB] coordinates {(1,0.30) (13,0.31)};
  \addplot[fP] coordinates {(1,0.42) (13,0.64)}; \addplot[fB] coordinates {(1,0.38) (13,0.38)};}
 {}{TPCI}
\panel{panelat={7}{312}, xmax=25, xtick={0,5,...,25}}{\tBg}
 {\addplot[ciB] coordinates {(1,0.37) (23,0.53)}; \addplot[ciB] coordinates {(1,0.29) (23,0.40)};
  \addplot[fP] coordinates {(1,0.38) (23,0.64)}; \addplot[fB] coordinates {(1,0.33) (23,0.47)};}
 {\stars{1}{1}{0}{4}{2}{2}}{TPCM}
\panel{panelat={8}{312}, xmax=25, xtick={0,5,...,25}}{\tBh}
 {\addplot[ciP] coordinates {(1,0.46) (13,0.55) (25,0.85)}; \addplot[ciB] coordinates {(1,0.27) (13,0.40) (25,0.55)};
  \addplot[fP] coordinates {(1,0.40) (25,0.70)}; \addplot[fB] coordinates {(1,0.32) (13,0.44) (25,0.61)};}
 {\stars{4}{4}{4}{4}{2}{4}}{TPCS}
\panel{panelat={9}{312}, xmax=15, xtick={0,5,...,15}}{\tBi}
 {\addplot[ciP] coordinates {(1,0.56) (15,0.82)}; \addplot[ciB] coordinates {(1,0.28) (15,0.50)};
  \addplot[fP] coordinates {(1,0.54) (15,0.64)}; \addplot[fB] coordinates {(1,0.34) (15,0.56)};}
 {}{TFI}
\panel{panelat={10}{312}, xmax=40, xtick={0,10,...,40}}{\tBj}
 {\addplot[ciP] coordinates {(1,0.35) (37,0.60)}; \addplot[ciB] coordinates {(1,0.22) (37,0.38)};
  \addplot[fP] coordinates {(1,0.31) (37,0.55)}; \addplot[fB] coordinates {(1,0.27) (37,0.45)};}
 {\stars{4}{2}{4}{2}{0}{3}}{TFS}

% ===== Row C (bottom at 475 px)
\panel{panelat={1}{475}, ylab, xmax=25, xtick={0,5,...,25}}{\tCa}
 {\addplot[ciP] coordinates {(1,0.70) (13,0.80) (21,0.93)};
  \addplot[ciB] coordinates {(1,0.31) (21,0.43)}; \addplot[ciB] coordinates {(11,0.55) (21,0.66)};
  \addplot[fP] coordinates {(1,0.63) (21,0.82)}; \addplot[fB] coordinates {(1,0.45) (21,0.51)};}
 {\stars{0}{0}{0}{1}{1}{0}}{TLO}
\panel{panelat={2}{475}, xmax=25, xtick={0,5,...,25}}{\tCb}
 {\addplot[ciP] coordinates {(13,0.46) (25,0.68)};
  \addplot[ciB] coordinates {(1,0.40) (13,0.48) (25,0.85)}; \addplot[ciB] coordinates {(1,0.28) (13,0.36) (25,0.32)};
  \addplot[fP] coordinates {(1,0.36) (25,0.50)}; \addplot[fB] coordinates {(1,0.34) (13,0.42) (25,0.53)};}
 {\stars{2}{2}{1}{2}{2}{1}}{TTOP}
\panel{panelat={3}{475}, xmax=15, xtick={0,5,...,15}}{\tCc}
 {\addplot[ciP] coordinates {(1,0.55) (7,0.60)};
  \addplot[ciB] coordinates {(1,0.60) (7,0.66) (13,0.95)}; \addplot[ciB] coordinates {(1,0.22) (7,0.40) (13,0.60)};
  \addplot[fP] coordinates {(1,0.38) (5,0.44) (9,0.55) (13,0.70)}; \addplot[fB] coordinates {(1,0.35) (5,0.41) (9,0.53) (13,0.72)};}
 {\stars{1}{0}{1}{1}{0}{1}}{TTOA}
\panel{panelat={4}{475}, xmax=20, xtick={0,5,...,20}}{\tCd}
 {\addplot[ciP] coordinates {(9,0.38) (15,0.50) (19,0.56)};
  \addplot[ciB] coordinates {(1,0.55) (7,0.62)}; \addplot[ciB] coordinates {(9,0.32) (15,0.45) (19,0.50)};
  \addplot[fP] coordinates {(1,0.38) (19,0.66)}; \addplot[fB] coordinates {(1,0.35) (19,0.78)};}
 {\stars{1}{0}{0}{2}{1}{0}}{TPO}
\panel{panelat={5}{475}, xmax=15, xtick={0,5,...,15}}{\tCe}
 {\addplot[ciP] coordinates {(1,0.30) (11,0.42)}; \addplot[ciB] coordinates {(1,0.14) (11,0.33)};
  \addplot[fP] coordinates {(1,0.26) (11,0.38)}; \addplot[fB] coordinates {(1,0.20) (11,0.37)};}
 {}{TLS}
\panel{panelat={6}{475}, xmax=30, xtick={0,5,...,30}}{\tCf}
 {\addplot[ciB] coordinates {(1,0.12) (13,0.28) (21,0.58) (27,0.93)}; \addplot[ciB] coordinates {(1,0.05) (13,0.15) (21,0.38) (27,0.60)};
  \addplot[fP] coordinates {(1,0.10) (7,0.13) (13,0.22) (17,0.33) (21,0.50) (25,0.72) (27,0.86)}; \addplot[fB] coordinates {(1,0.08) (7,0.11) (13,0.20) (17,0.31) (21,0.47) (25,0.70) (27,0.85)};}
 {\stars{4}{4}{4}{4}{4}{4}}{TPCI}
\panel{panelat={7}{475}, xmax=30, xtick={0,5,...,30}}{\tCg}
 {\addplot[ciB] coordinates {(1,0.38) (25,0.64)}; \addplot[ciB] coordinates {(1,0.30) (25,0.50)};
  \addplot[fP] coordinates {(1,0.36) (25,0.60)}; \addplot[fB] coordinates {(1,0.34) (25,0.57)};}
 {\stars{4}{0}{4}{4}{4}{4}}{TPCM}
\panel{panelat={8}{475}, xmax=45, xtick={0,15,30,45}}{\tCh}
 {\addplot[ciP] coordinates {(1,0.33) (25,0.58) (45,0.88)};
  \addplot[ciB] coordinates {(1,0.30) (25,0.60) (45,0.92)}; \addplot[ciB] coordinates {(1,0.20) (25,0.45) (45,0.62)};
  \addplot[fP] coordinates {(1,0.30) (45,0.74)}; \addplot[fB] coordinates {(1,0.25) (45,0.72)};}
 {\stars{4}{4}{4}{4}{4}{4}}{TPCS}
\panel{panelat={9}{475}, xmax=25, xtick={0,5,...,25}}{\tCi}
 {\addplot[ciP] coordinates {(1,0.46) (12,0.52) (23,0.65)};
  \addplot[ciB] coordinates {(1,0.25) (12,0.35) (19,0.60) (23,0.95)}; \addplot[ciB] coordinates {(1,0.10) (12,0.25) (23,0.45)};
  \addplot[fP] coordinates {(1,0.34) (12,0.43) (23,0.55)}; \addplot[fB] coordinates {(1,0.15) (8,0.22) (14,0.33) (19,0.47) (23,0.62)};}
 {\stars{4}{0}{4}{1}{0}{2}}{TFI}
\panel{panelat={10}{475}, xmax=25, xtick={0,5,...,25}}{\tCj}
 {\addplot[ciP] coordinates {(1,0.38) (25,0.66)}; \addplot[ciB] coordinates {(1,0.18) (25,0.50)};
  \addplot[fP] coordinates {(1,0.30) (25,0.62)}; \addplot[fB] coordinates {(1,0.24) (25,0.57)};}
 {\stars{4}{4}{4}{4}{4}{2}}{TFS}

% ===== Row D (bottom at 642 px)
\panel{panelat={1}{642}, ylab, xmax=15, xtick={0,5,...,15}}{\tDa}
 {\addplot[ciP] coordinates {(1,0.38) (7,0.52) (13,0.90) (15,1.05)};
  \addplot[ciB] coordinates {(1,0.30) (9,0.52) (15,0.95)}; \addplot[ciB] coordinates {(1,0.22) (9,0.40) (15,0.62)};
  \addplot[fP] coordinates {(1,0.32) (5,0.38) (9,0.50) (13,0.67) (15,0.85)}; \addplot[fB] coordinates {(1,0.26) (5,0.33) (9,0.45) (13,0.62) (15,0.75)};}
 {\stars{4}{4}{2}{4}{4}{3}}{TLO}
\panel{panelat={2}{642}, xmax=15, xtick={0,5,...,15}}{\tDb}
 {\addplot[ciB] coordinates {(1,0.27) (15,0.38)}; \addplot[ciB] coordinates {(1,0.21) (15,0.28)};
  \addplot[fP] coordinates {(1,0.28) (15,0.43)}; \addplot[fB] coordinates {(1,0.24) (15,0.33)};}
 {\stars{1}{0}{3}{3}{0}{3}}{TTOP}
\panel{panelat={3}{642}, xmax=15, xtick={0,5,...,15}}{\tDc}
 {\addplot[ciP] coordinates {(1,0.38) (11,0.62)};
  \addplot[ciB] coordinates {(1,0.33) (7,0.45) (11,0.80)}; \addplot[ciB] coordinates {(1,0.20) (11,0.33)};
  \addplot[fP] coordinates {(1,0.33) (11,0.52)}; \addplot[fB] coordinates {(1,0.28) (5,0.33) (9,0.42) (11,0.48)};}
 {\stars{3}{4}{0}{2}{4}{0}}{TTOA}
\panel{panelat={4}{642}, xmax=25, xtick={0,5,...,25}}{\tDd}
 {\addplot[ciP] coordinates {(1,0.52) (23,0.82)}; \addplot[ciB] coordinates {(1,0.38) (23,0.58)};
  \addplot[fP] coordinates {(1,0.48) (23,0.78)}; \addplot[fB] coordinates {(1,0.43) (23,0.70)};}
 {\stars{4}{4}{4}{4}{4}{4}}{TPO}
\panel{panelat={5}{642}, xmax=30, xtick={0,5,...,30}}{\tDe}
 {\addplot[ciP] coordinates {(17,0.52) (27,0.65)};
  \addplot[ciB] coordinates {(1,0.38) (27,0.58)}; \addplot[ciB] coordinates {(1,0.28) (27,0.45)};
  \addplot[fP] coordinates {(1,0.35) (27,0.52)}; \addplot[fB] coordinates {(1,0.33) (27,0.50)};}
 {\stars{3}{2}{2}{4}{3}{2}}{TLS}
\node[anchor=north, inner sep=0pt, font=\fTtl] at (372.1pt,-264pt) {TPCI};
\panel{panelat={7}{642}, xmax=20, xtick={0,5,...,20}}{\tDg}
 {\addplot[ciP] coordinates {(1,0.50) (17,0.80)}; \addplot[ciB] coordinates {(1,0.38) (17,0.55)};
  \addplot[fP] coordinates {(1,0.47) (17,0.72)}; \addplot[fB] coordinates {(1,0.42) (17,0.66)};}
 {\stars{4}{4}{4}{4}{4}{4}}{TPCM}
\panel{panelat={8}{642}, xmax=30, xtick={0,5,...,30}}{\tDh}
 {\addplot[ciP] coordinates {(1,0.46) (29,0.78)}; \addplot[ciB] coordinates {(1,0.28) (29,0.56)};
  \addplot[fP] coordinates {(1,0.42) (29,0.68)}; \addplot[fB] coordinates {(1,0.34) (29,0.62)};}
 {\stars{4}{4}{4}{4}{4}{4}}{TPCS}
\panel{panelat={9}{642}, xmax=20, xtick={0,5,...,20}}{\tDi}
 {\addplot[ciP] coordinates {(7,0.58) (17,0.84)};
  \addplot[ciB] coordinates {(1,0.50) (17,0.66)}; \addplot[ciB] coordinates {(1,0.38) (17,0.38)};
  \addplot[fP] coordinates {(1,0.44) (17,0.63)}; \addplot[fB] coordinates {(1,0.42) (17,0.48)};}
 {\stars{1}{0}{2}{3}{0}{2}}{TFI}
\panel{panelat={10}{642}, xmax=35, xtick={0,5,...,35}}{\tDj}
 {\addplot[ciP] coordinates {(1,0.44) (33,0.70)}; \addplot[ciB] coordinates {(1,0.30) (33,0.46)};
  \addplot[fP] coordinates {(1,0.40) (33,0.63)}; \addplot[fB] coordinates {(1,0.36) (33,0.52)};}
 {\stars{4}{3}{3}{4}{4}{4}}{TFS}
\end{tikzpicture}
\end{document}
